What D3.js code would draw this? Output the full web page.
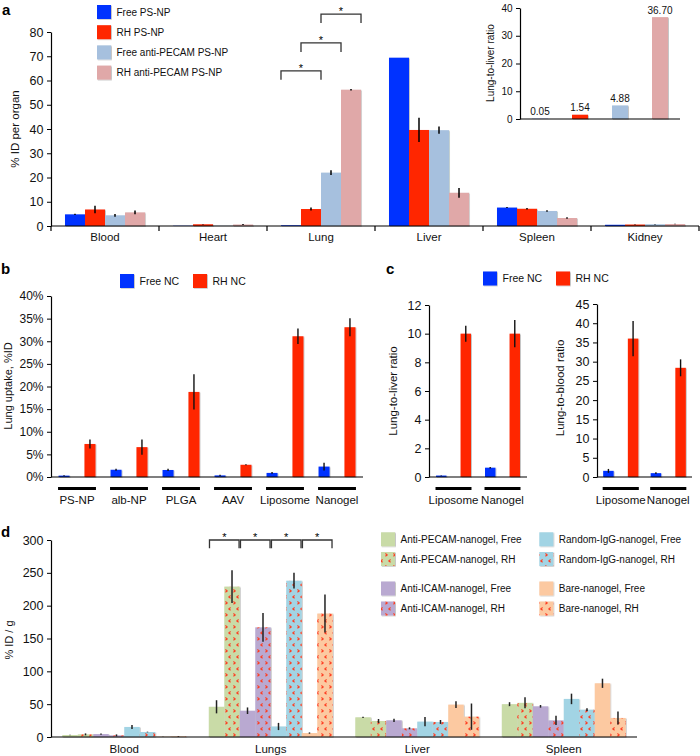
<!DOCTYPE html>
<html><head><meta charset="utf-8">
<script src="https://cdn.jsdelivr.net/npm/d3@7"></script>
<style>
body{margin:0;background:#fff;}
svg{display:block;font-family:"Liberation Sans",Arial,Helvetica,sans-serif;}
</style></head><body>
<svg id="chart" width="700" height="756"></svg>
<script>
// ---------------- DATA ----------------
// Panel a
const aCategories = ["Blood","Heart","Lung","Liver","Spleen","Kidney"];
const aSeries = ["Free PS-NP","RH PS-NP","Free anti-PECAM PS-NP","RH anti-PECAM PS-NP"];
const aValues = [
  [4.8, 6.8, 4.4, 5.6],
  [0.1, 0.7, 0.1, 0.6],
  [0.3, 7.0, 22.0, 56.2],
  [69.4, 39.6, 39.5, 13.7],
  [7.6, 7.1, 6.2, 3.3],
  [0.5, 0.6, 0.7, 0.8]
];
const aErrors = [
  [0.3, 1.5, 0.6, 0.8],
  [0, 0.1, 0, 0.2],
  [0, 0.6, 1.0, 0.3],
  [0, 5.0, 1.5, 2.0],
  [0.2, 0.3, 0.3, 0.3],
  [0, 0.1, 0.1, 0.1]
];
const aTicks = [0,10,20,30,40,50,60,70,80];
const aBrackets = [{cat:"Lung", from:0, to:1, y:64},{cat:"Lung", from:1, to:2, y:75.5},{cat:"Lung", from:2, to:3, y:87.4}];
// Panel a inset
const insetValues = [0.05, 1.54, 4.88, 36.70];
const insetLabels = ["0.05","1.54","4.88","36.70"];
const insetTicks = [0,10,20,30,40];
// Panel b
const bCategories = ["PS-NP","alb-NP","PLGA","AAV","Liposome","Nanogel"];
const ncSeries = ["Free NC","RH NC"];
const bFree = [0.3, 1.6, 1.55, 0.35, 0.9, 2.3];
const bFreeErr = [0.1, 0.2, 0.25, 0.15, 0.2, 0.85];
const bRH = [7.3, 6.6, 18.8, 2.7, 31.1, 33.1];
const bRHErr = [1.0, 1.7, 3.9, 0.1, 1.7, 2.0];
const bTicks = [0,5,10,15,20,25,30,35,40];
// Panel c
const cCategories = ["Liposome","Nanogel"];
const cLiverFree = [0.1, 0.65], cLiverFreeErr = [0.02, 0.05];
const cLiverRH = [10.0, 10.0], cLiverRHErr = [0.56, 0.95];
const cLiverTicks = [0,2,4,6,8,10,12];
const cBloodFree = [1.6, 1.0], cBloodFreeErr = [0.5, 0.25];
const cBloodRH = [36.0, 28.4], cBloodRHErr = [4.6, 2.2];
const cBloodTicks = [0,5,10,15,20,25,30,35,40,45];
// Panel d
const dCategories = ["Blood","Lungs","Liver","Spleen"];
const dSeries = ["Anti-PECAM-nanogel, Free","Anti-PECAM-nanogel, RH","Anti-ICAM-nanogel, Free","Anti-ICAM-nanogel, RH",
                 "Random-IgG-nanogel, Free","Random-IgG-nanogel, RH","Bare-nanogel, Free","Bare-nanogel, RH"];
const dValues = [
  [3, 4, 4.5, 2.5, 15.3, 7.6, 0.5, 1.0],
  [46, 229, 40, 167, 16, 238, 6, 188],
  [30, 24.4, 25.4, 13.2, 23.4, 22.9, 49.3, 31],
  [50, 52, 46.7, 25.3, 58, 41.6, 81.8, 29]
];
const dErrors = [
  [0.5, 1.5, 1, 1.5, 3, 0.5, 0.3, 0.5],
  [10, 25, 5, 22, 5.5, 12, 1, 29],
  [1, 3, 2.5, 1.5, 7, 3, 5.3, 20],
  [3, 8.4, 2, 7, 8, 2, 7, 10]
];
const dTicks = [0,50,100,150,200,250,300];
const dBrackets = [{cat:"Lungs",from:0,to:1,y:300},{cat:"Lungs",from:2,to:3,y:300},{cat:"Lungs",from:4,to:5,y:300},{cat:"Lungs",from:6,to:7,y:300}];

// ---------------- STYLE ----------------
const aColors = ["#0433ff","#ff2600","#a6c0de","#e0a8a8"];
const ncColors = ["#0433ff","#ff2600"];
const dBase = ["#c9dba7","#c9dba7","#b9a9d1","#b9a9d1","#a2d4e4","#a2d4e4","#fcc9a1","#fcc9a1"];

const svg = d3.select("#chart");
const defs = svg.append("defs");
const flt = defs.append("filter").attr("id","sh").attr("x","-20%").attr("y","-5%").attr("width","150%").attr("height","120%");
flt.append("feDropShadow").attr("dx",0.8).attr("dy",0.6).attr("stdDeviation",0.7).attr("flood-color","#000").attr("flood-opacity",0.28);

// patterns for RH bars in d
const patIds = dBase.map((c,i)=>{
  const id = "pat"+i;
  const p = defs.append("pattern").attr("id",id).attr("patternUnits","userSpaceOnUse")
    .attr("width",8).attr("height",12);
  p.append("rect").attr("width",8).attr("height",12).attr("fill",c);
  p.append("path").attr("d","M1.4,1.5 L3.2,2.9 L1.4,4.3 M6.6,7.5 L4.8,8.9 L6.6,10.3")
    .attr("fill","none").attr("stroke","#ff3b1f").attr("stroke-width",1.1);
  return id;
});
const dFill = (i) => dSeries[i].endsWith("RH") ? `url(#${patIds[i]})` : dBase[i];

function yAxis(x, scale, ticks, fmt, fs){
  const g = svg.append("g").attr("transform",`translate(${x},0)`)
    .call(d3.axisLeft(scale).tickValues(ticks).tickFormat(fmt).tickSize(4).tickSizeOuter(0).tickPadding(3.5));
  g.selectAll("text").attr("font-size",fs).attr("fill","#111").attr("font-family",'"Liberation Sans",Arial,sans-serif');
  g.select(".domain").attr("stroke","#000").attr("stroke-width",1.2);
  g.selectAll(".tick line").attr("stroke","#000");
  return g;
}
function xLine(x0,x1,y){
  svg.append("line").attr("x1",x0).attr("x2",x1).attr("y1",y).attr("y2",y).attr("stroke","#000").attr("stroke-width",1.2);
}
function yLabel(text, xc, yc, fs){
  svg.append("text").attr("transform",`translate(${xc},${yc}) rotate(-90)`).attr("dy","0.35em")
    .attr("text-anchor","middle").attr("font-size",fs).attr("fill","#111").text(text);
}
function errBar(x, y0, y1, color, w){
  svg.append("line").attr("x1",x).attr("x2",x).attr("y1",y0).attr("y2",y1).attr("stroke",color||"#000").attr("stroke-width",w||1.5);
}
function panelLabel(t,x,y){
  svg.append("text").attr("x",x).attr("y",y).attr("font-size",15).attr("font-weight","bold").attr("fill","#000").text(t);
}
function legendItem(x, yc, fill, label, fs){
  svg.append("rect").attr("x",x).attr("y",yc-7).attr("width",14).attr("height",14).attr("fill",fill).attr("filter","url(#sh)");
  svg.append("text").attr("x",x+19.5).attr("y",yc).attr("dy","0.35em").attr("font-size",fs).attr("fill","#111").text(label);
}
function bracket(x0,x1,yTop,yLeg){
  svg.append("path").attr("d",`M${x0},${yLeg}V${yTop}H${x1}V${yLeg}`).attr("fill","none").attr("stroke","#333").attr("stroke-width",1.3);
  svg.append("text").attr("x",(x0+x1)/2).attr("y",yTop+1).attr("text-anchor","middle").attr("font-size",11).attr("fill","#000").attr("stroke","none").text("*");
}

// ---------------- PANEL A ----------------
const ax = d3.scaleBand().domain(aCategories).range([51,699]).paddingInner(0.259).paddingOuter(0.1295);
const ax1 = d3.scaleBand().domain(d3.range(aSeries.length)).range([0, ax.bandwidth()]);
const ay = d3.scaleLinear().domain([0,80]).range([226,32]);
aCategories.forEach((c,i)=>{
  aValues[i].forEach((v,j)=>{
    svg.append("rect").attr("x",ax(c)+ax1(j)).attr("width",ax1.bandwidth())
      .attr("y",ay(v)).attr("height",ay(0)-ay(v)).attr("fill",aColors[j]).attr("filter","url(#sh)");
  });
});
aCategories.forEach((c,i)=>{
  aValues[i].forEach((v,j)=>{
    const e = aErrors[i][j];
    if(e>0) errBar(ax(c)+ax1(j)+ax1.bandwidth()/2, ay(v-e), ay(v+e));
  });
});
yAxis(51, ay, aTicks, d3.format("d"), 12.5);
xLine(51,699,ay(0));
const aBounds = aCategories.map(c=>ax(c)-ax.step()*ax.paddingInner()/2).concat([ax.range()[1]]);
aBounds.forEach(b=>svg.append("line").attr("x1",b).attr("x2",b).attr("y1",ay(0)).attr("y2",ay(0)+5).attr("stroke","#000").attr("stroke-width",1.2));
aCategories.forEach(c=>svg.append("text").attr("x",ax(c)+ax.bandwidth()/2).attr("y",241).attr("text-anchor","middle").attr("font-size",11.5).attr("fill","#111").text(c));
yLabel("% ID per organ", 15, 129, 11.5);
aBrackets.forEach(b=>{
  bracket(ax(b.cat)+ax1(b.from), ax(b.cat)+ax1(b.to)+ax1.bandwidth(), ay(b.y), ay(b.y-3.7));
});
aSeries.forEach((s,j)=>legendItem(97, 12+j*20.2, aColors[j], s, 10));
panelLabel("a",2,15);

// inset
const ix = d3.scaleBand().domain(d3.range(insetValues.length)).range([520,680]).paddingInner(0.6).paddingOuter(0.3);
const iy = d3.scaleLinear().domain([0,40]).range([119,8]);
insetValues.forEach((v,j)=>{
  svg.append("rect").attr("x",ix(j)).attr("width",ix.bandwidth()).attr("y",iy(v)).attr("height",iy(0)-iy(v)).attr("fill",aColors[j]).attr("filter","url(#sh)");
  svg.append("text").attr("x",ix(j)+ix.bandwidth()/2).attr("y",iy(v)-3.5).attr("text-anchor","middle").attr("font-size",10).attr("fill","#111").text(insetLabels[j]);
});
yAxis(520, iy, insetTicks, d3.format("d"), 10);
xLine(520,680,iy(0));
yLabel("Lung-to-liver ratio", 490, 63, 10);

// ---------------- PANELS B & C helper ----------------
function ncPanel(cats, xr, yscale, free, freeErr, rh, rhErr, xPadI){
  const x = d3.scaleBand().domain(cats).range(xr).paddingInner(xPadI).paddingOuter(xPadI/2);
  const x1 = d3.scaleBand().domain([0,1]).range([0,x.bandwidth()]).paddingInner(0.575);
  const series = [free, rh], errs = [freeErr, rhErr];
  cats.forEach((c,i)=>{
    series.forEach((arr,j)=>{
      const v = arr[i];
      svg.append("rect").attr("x",x(c)+x1(j)).attr("width",x1.bandwidth()).attr("y",yscale(v)).attr("height",yscale(0)-yscale(v)).attr("fill",ncColors[j]).attr("filter","url(#sh)");
    });
  });
  cats.forEach((c,i)=>{
    series.forEach((arr,j)=>{
      const v = arr[i], e = errs[j][i];
      if(e>0) errBar(x(c)+x1(j)+x1.bandwidth()/2, yscale(v-e), yscale(v+e), "#111", 1.4);
    });
    svg.append("rect").attr("x",x(c)-0.5).attr("width",x.bandwidth()+1).attr("y",487).attr("height",3).attr("fill","#000");
    svg.append("text").attr("x",x(c)+x.bandwidth()/2).attr("y",504).attr("text-anchor","middle").attr("font-size",11.5).attr("fill","#111").text(c);
  });
  xLine(xr[0], xr[1], yscale(0));
  return x;
}
// ---------------- PANEL B ----------------
const by = d3.scaleLinear().domain([0,40]).range([477,296]);
ncPanel(bCategories, [51,363], by, bFree, bFreeErr, bRH, bRHErr, 0.29);
yAxis(51, by, bTicks, d=>d+"%", 12);
yLabel("Lung uptake, %ID", 8, 386, 11);
legendItem(120, 281, ncColors[0], ncSeries[0], 10.5);
legendItem(193, 281, ncColors[1], ncSeries[1], 10.5);
panelLabel("b",1,274);

// ---------------- PANEL C ----------------
const cyL = d3.scaleLinear().domain([0,12]).range([477,305]);
ncPanel(cCategories, [429,527], cyL, cLiverFree, cLiverFreeErr, cLiverRH, cLiverRHErr, 0.286);
yAxis(429, cyL, cLiverTicks, d3.format("d"), 12.5);
yLabel("Lung-to-liver ratio", 393, 391, 11.5);
const cyR = d3.scaleLinear().domain([0,45]).range([477,304]);
ncPanel(cCategories, [597,692], cyR, cBloodFree, cBloodFreeErr, cBloodRH, cBloodRHErr, 0.26);
yAxis(597, cyR, cBloodTicks, d3.format("d"), 12.5);
yLabel("Lung-to-blood ratio", 560, 388, 11.5);
legendItem(483, 278.5, ncColors[0], ncSeries[0], 10.5);
legendItem(556, 278.5, ncColors[1], ncSeries[1], 10.5);
panelLabel("c",386,274);

// ---------------- PANEL D ----------------
const dx = d3.scaleBand().domain(dCategories).range([51,637]).paddingInner(0.154).paddingOuter(0.077);
const dx1 = d3.scaleBand().domain(d3.range(dSeries.length)).range([0,dx.bandwidth()]);
const dy = d3.scaleLinear().domain([0,300]).range([737,540]);
dCategories.forEach((c,i)=>{
  dValues[i].forEach((v,j)=>{
    svg.append("rect").attr("x",dx(c)+dx1(j)).attr("width",dx1.bandwidth()).attr("y",dy(v)).attr("height",dy(0)-dy(v)).attr("fill",dFill(j)).attr("filter","url(#sh)");
  });
});
dCategories.forEach((c,i)=>{
  dValues[i].forEach((v,j)=>{
    const e = dErrors[i][j];
    if(e>0) errBar(dx(c)+dx1(j)+dx1.bandwidth()/2, dy(Math.max(0,v-e)), dy(v+e), "#222", 1.5);
  });
  svg.append("text").attr("x",dx(c)+dx.bandwidth()/2).attr("y",753).attr("text-anchor","middle").attr("font-size",11.5).attr("fill","#111").text(c);
});
yAxis(51, dy, dTicks, d3.format("d"), 12.5);
xLine(51,637,dy(0));
yLabel("% ID / g", 9, 640, 11);
dBrackets.forEach(b=>{
  bracket(dx(b.cat)+dx1(b.from)+0.7, dx(b.cat)+dx1(b.to)+dx1.bandwidth()-0.7, dy(b.y), dy(b.y-12.5));
});
const dRowY = [539.3, 559, 588.5, 608.5];
dSeries.forEach((s,j)=>{
  const col = Math.floor(j/4), row = j%4;
  legendItem(col===0?381:539.3, dRowY[row], dFill(j), s, 10);
});
panelLabel("d",1,537);
</script>
</body></html>
